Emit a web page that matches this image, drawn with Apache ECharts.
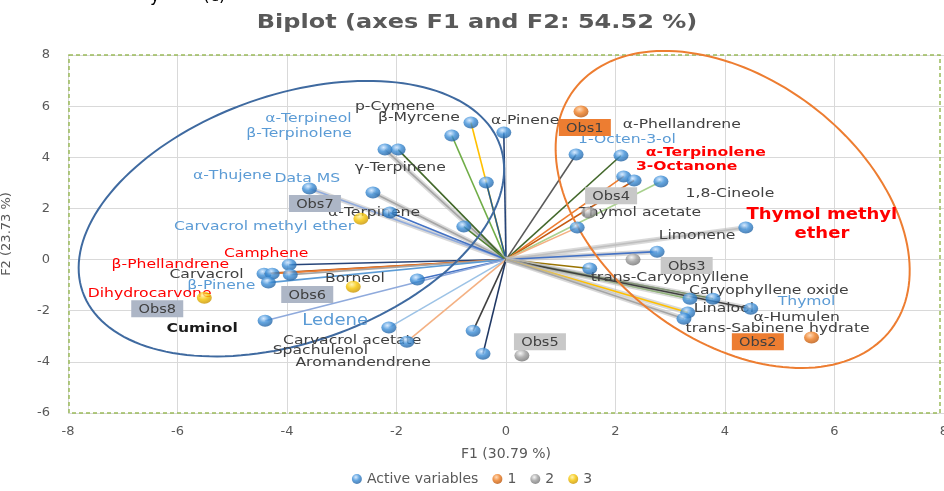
<!DOCTYPE html>
<html><head><meta charset="utf-8">
<script src="https://cdn.jsdelivr.net/npm/echarts@6/dist/echarts.min.js"></script>
<style>html,body{margin:0;padding:0;background:#fff}#c{width:944px;height:491px}</style>
</head><body><div id="c"></div>
<script>
// ---- active variables (vector end points) ----
const varX = [-0.64,-0.04,-0.99,-2.21,-1.97,-0.36,-2.43,-3.59,-2.12,-0.77,
              -3.96,-4.42,-4.27,-3.94,-4.34,-1.62,-4.40,-2.14,-1.81,-0.60,-0.42,
              1.28,2.10,2.15,2.34,2.83,1.30,4.38,2.76,1.53,3.36,3.78,4.47,3.32,3.25];
const varY = [5.36,4.97,4.85,4.30,4.30,3.01,2.62,2.78,1.84,1.29,
              -0.20,-0.55,-0.55,-0.59,-0.90,-0.78,-2.39,-2.66,-3.21,-2.78,-3.68,
              4.11,4.07,3.25,3.09,3.05,1.25,1.25,0.31,-0.35,-1.53,-1.53,-1.92,-2.07,-2.31];
// ---- observations by group ----
const g1X = [1.37,5.58],        g1Y = [5.79,-3.05];
const g2X = [2.32,1.51,0.29],   g2Y = [0.00,1.84,-3.75];
const g3X = [-2.79,-2.65,-5.51],g3Y = [-1.06,1.60,-1.49];
// ---- variable labels ----
const labelText = ['α-Terpineol','β-Terpinolene','p-Cymene','β-Myrcene','α-Pinene','α-Thujene','Data MS','γ-Terpinene','α-Terpinene',
  'Carvacrol methyl ether','Camphene','β-Phellandrene','Carvacrol','β-Pinene','Dihydrocarvone','Borneol','Cuminol','Ledene',
  'Carvacrol acetate','Spachulenol','Aromandendrene','α-Phellandrene','1-Octen-3-ol','α-Terpinolene','3-Octanone','1,8-Cineole',
  'Thymol acetate','Thymol methyl','ether','Limonene','trans-Caryophyllene','Caryophyllene oxide','Thymol','Linalool','α-Humulen',
  'trans-Sabinene hydrate'];
const labelX = [-3.61,-3.78,-2.03,-1.59,0.35,-5.0,-3.63,-1.93,-2.41,-4.42,-4.38,-6.13,-5.47,-5.2,-6.51,-2.76,-5.55,-3.12,
  -2.81,-3.39,-2.61,3.21,2.21,3.65,3.30,4.09,2.45,5.77,5.77,3.49,2.99,4.80,5.49,3.98,5.31,4.96];
const labelY = [5.51,4.93,5.98,5.55,5.44,3.29,3.17,3.60,1.84,1.29,0.23,-0.2,-0.59,-1.02,-1.33,-0.74,-2.70,-2.42,
  -3.17,-3.56,-4.03,5.28,4.69,4.18,3.64,2.58,1.84,1.72,0.98,0.94,-0.70,-1.21,-1.64,-1.92,-2.27,-2.70];
// ---- observation labels ----
const obsNames = ['Obs1','Obs2','Obs3','Obs4','Obs5','Obs6','Obs7','Obs8'];
const obsLabX = [1.44,4.60,3.30,1.92,0.62,-3.63,-3.49,-6.37];
const obsLabY = [5.16,-3.21,-0.23,2.50,-3.21,-1.37,2.19,-1.92];
const obsGroup = [1,1,2,2,2,3,3,3];
// ---- confidence ellipses ----
const ellCX = [-3.92,4.14], ellCY = [1.60,1.96];
const ellA = [4.04,3.63], ellB = [2.26,2.38], ellAngle = [19.3,-37];

// ---- styles ----
const BLUE='#5b9bd5', RED='#ff0000', DARK='#404040';
const labelColor = [BLUE,BLUE,DARK,DARK,DARK,BLUE,BLUE,DARK,DARK,BLUE,RED,RED,DARK,BLUE,RED,DARK,'#1a1a1a',BLUE,
  DARK,DARK,DARK,DARK,BLUE,RED,RED,DARK,DARK,RED,RED,DARK,DARK,DARK,BLUE,DARK,DARK,DARK];
const labelBold = [0,0,0,0,0,0,0,0,0,0,0,0,0,0,0,0,1,0,0,0,0,0,0,1,1,0,0,1,1,0,0,0,0,0,0,0];
const labelSize = [13,13,13,13,13,13,13,13,13,13,13,13,13,13,13,13,13,15,13,13,13,13,13,13,13,13,13,15,15,13,13,13,13,13,13,13];
const vecColors = ['#ffc000','#264478','#70ad47','#a5a5a5','#43682b','#255e91','#a5a5a5','#8faadc','#4472c4','#548235',
  '#264478','#9e480e','#ed7d31','#a5a5a5','#5b9bd5','#4472c4','#8faadc','#9dc3e6','#f4b183','#404040','#203864',
  '#595959','#43682b','#ed7d31','#c55a11','#a9d18e','#f4b183','#bfbfbf','#4472c4','#997300','#70ad47','#43682b','#404040','#ffc000','#a5a5a5'];
const vecWide = [3,6,7,27,28,30,31,32,33,34];
const obsBoxColor = {1:'#ed7d31',2:'#c8c8c8',3:'#adb6c6'};
const ellColor = ['#3f6aa0','#ed7d31'];
const STRETCH = 1.2;

function sphere(light, mid, dark){
  return {type:'radial', x:0.4, y:0.32, r:0.75, colorStops:[
    {offset:0,color:light},{offset:0.45,color:mid},{offset:1,color:dark}]};
}
const FONT = 'DejaVu Sans';
const chart = echarts.init(document.getElementById('c'), null, {renderer:'canvas'});

const option = {
  animation:false,
  backgroundColor:'#fff',
  graphic:[
    {type:'text', x:477, y:23, scaleX:STRETCH, silent:true,
      style:{text:'Biplot (axes F1 and F2: 54.52 %)', fill:'#595959', font:'bold 20px "'+FONT+'"',
        align:'center', verticalAlign:'middle'}},
    {type:'text', x:150, y:5, silent:true,
      style:{text:'y', fill:'#000', font:'17px "'+FONT+'"', align:'left', verticalAlign:'bottom'}},
    {type:'text', x:203, y:5, silent:true,
      style:{text:'(c)', fill:'#000', font:'17px "'+FONT+'"', align:'left', verticalAlign:'bottom'}}
  ],
  legend:{bottom:0, left:'center', icon:'circle', itemWidth:10, itemHeight:10, itemGap:14,
    data:['Active variables','1','2','3'],
    textStyle:{fontFamily:FONT, fontSize:14, color:'#595959'}},
  grid:{left:68, right:0, top:55, bottom:78, outerBoundsMode:'none', containLabel:false},
  xAxis:{type:'value', min:-8, max:8, interval:2,
    axisLine:{show:false}, axisTick:{show:false},
    splitLine:{show:true, lineStyle:{color:'#d9d9d9'}},
    axisLabel:{color:'#595959', fontFamily:FONT, fontSize:13, margin:12},
    name:'F1 (30.79 %)', nameLocation:'middle', nameGap:34,
    nameTextStyle:{color:'#595959', fontFamily:FONT, fontSize:14}},
  yAxis:{type:'value', min:-6, max:8, interval:2,
    axisLine:{show:false}, axisTick:{show:false},
    splitLine:{show:true, lineStyle:{color:'#d9d9d9'}},
    axisLabel:{color:'#595959', fontFamily:FONT, fontSize:13, margin:18},
    name:'F2 (23.73 %)', nameLocation:'middle', nameGap:55,
    nameTextStyle:{color:'#595959', fontFamily:FONT, fontSize:13}},
  series:[
    { // dashed plot border
      type:'custom', silent:true, z:1, data:[[0,0]], encode:{x:0,y:1}, clip:false,
      renderItem:(p,api)=>{
        const a=api.coord([-8,8]), b=api.coord([8,-6]);
        return {type:'rect', shape:{x:a[0]+1,y:a[1],width:b[0]-a[0]-5,height:b[1]-a[1]},
          style:{fill:null, stroke:'#9bbb59', lineWidth:1.5, lineDash:[4,3]}};
      }
    },
    { // vectors
      type:'custom', silent:true, z:2, encode:{x:0,y:1},
      data: varX.map((x,i)=>[x,varY[i],i]),
      renderItem:(p,api)=>{
        const i=api.value(2), o=api.coord([0,0]), e=api.coord([api.value(0),api.value(1)]);
        const ch=[];
        if(vecWide.indexOf(i)>=0) ch.push({type:'line', shape:{x1:o[0],y1:o[1],x2:e[0],y2:e[1]},
          style:{stroke:'rgba(185,185,185,0.55)', lineWidth:5}});
        ch.push({type:'line', shape:{x1:o[0],y1:o[1],x2:e[0],y2:e[1]}, style:{stroke:vecColors[i], lineWidth:1.6}});
        return {type:'group', children:ch};
      }
    },
    { // ellipses
      type:'custom', silent:true, z:3, encode:{x:0,y:1}, clip:false,
      data: ellCX.map((c,i)=>[c,ellCY[i],i]),
      renderItem:(p,api)=>{
        const i=api.value(2), c=api.coord([api.value(0),api.value(1)]), s=api.size([1,1]);
        const a=ellA[i]*s[0], b=ellB[i]*s[0], th=ellAngle[i]*Math.PI/180, pts=[];
        for(let k=0;k<=160;k++){const t=k/160*Math.PI*2;
          pts.push([c[0]+a*Math.cos(t)*Math.cos(th)-b*Math.sin(t)*Math.sin(th),
                    c[1]-(a*Math.cos(t)*Math.sin(th)+b*Math.sin(t)*Math.cos(th))]);}
        return {type:'polyline', shape:{points:pts}, style:{fill:null, stroke:ellColor[i], lineWidth:2}};
      }
    },
    { // variable labels
      type:'custom', silent:true, z:5, encode:{x:0,y:1}, clip:false,
      data: labelX.map((x,i)=>[x,labelY[i],i]),
      renderItem:(p,api)=>{
        const i=api.value(2), c=api.coord([api.value(0),api.value(1)]);
        return {type:'text', x:c[0], y:c[1], scaleX:STRETCH, style:{text:labelText[i], fill:labelColor[i],
          font:(labelBold[i]?'bold ':'')+labelSize[i]+'px "'+FONT+'"', align:'center', verticalAlign:'middle'}};
      }
    },
    {name:'Active variables', type:'scatter', z:6, symbol:'circle', symbolSize:[15,12],
      itemStyle:{color:sphere('#cfe6ff','#3d8fd8','#1d5a99')},
      data: varX.map((x,i)=>[x,varY[i]])},
    {name:'1', type:'scatter', z:6, symbol:'circle', symbolSize:[15,12],
      itemStyle:{color:sphere('#ffd2a8','#ee7d22','#b04e06')},
      data: g1X.map((x,i)=>[x,g1Y[i]])},
    {name:'2', type:'scatter', z:6, symbol:'circle', symbolSize:[15,12],
      itemStyle:{color:sphere('#f2f2f2','#a0a0a0','#6a6a6a')},
      data: g2X.map((x,i)=>[x,g2Y[i]])},
    {name:'3', type:'scatter', z:6, symbol:'circle', symbolSize:[15,12],
      itemStyle:{color:sphere('#fff2a0','#f5c400','#c08a00')},
      data: g3X.map((x,i)=>[x,g3Y[i]])},
    { // observation label boxes
      type:'custom', silent:true, z:7, encode:{x:0,y:1}, clip:false,
      data: obsLabX.map((x,i)=>[x,obsLabY[i],i]),
      renderItem:(p,api)=>{
        const i=api.value(2), c=api.coord([api.value(0),api.value(1)]);
        const w=52, h=17;
        return {type:'group', children:[
          {type:'rect', shape:{x:c[0]-w/2,y:c[1]-h/2,width:w,height:h}, style:{fill:obsBoxColor[obsGroup[i]]}},
          {type:'text', x:c[0], y:c[1]+1, scaleX:1.12, style:{text:obsNames[i], fill:'#404040', font:'13px "'+FONT+'"',
            align:'center', verticalAlign:'middle'}}
        ]};
      }
    }
  ]
};
chart.setOption(option);
</script></body></html>
